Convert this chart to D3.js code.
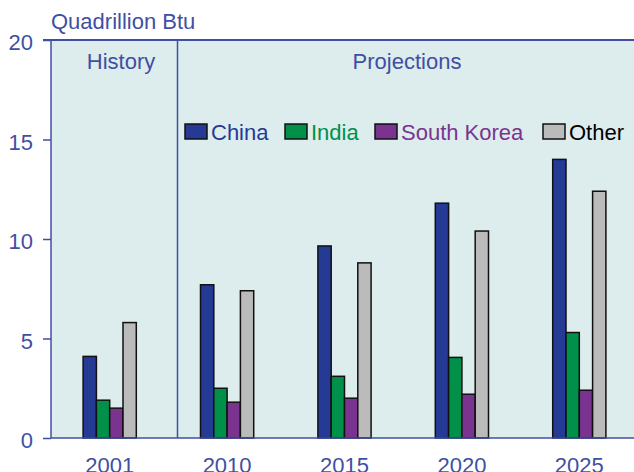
<!DOCTYPE html>
<html><head><meta charset="utf-8">
<script src="https://cdn.jsdelivr.net/npm/d3@7"></script>
<style>body{margin:0;background:#fff}svg{display:block}text{font-family:"Liberation Sans",Arial,sans-serif}</style>
</head><body>
<script>
const years = ["2001","2010","2015","2020","2025"];
const seriesNames = ["China","India","South Korea","Other"];
const china = [4.1, 7.7, 9.65, 11.8, 14.0];
const india = [1.9, 2.5, 3.1, 4.05, 5.3];
const southKorea = [1.5, 1.8, 2.0, 2.2, 2.4];
const other = [5.8, 7.4, 8.8, 10.4, 12.4];
const yTicks = [0,5,10,15,20];
const colors = ["#253a94","#00904a","#7a3490","#bbbbbb"];
const textColors = ["#253a94","#00904a","#7a3490","#000000"];

const W=634,H=472;
const svg=d3.select("body").append("svg").attr("width",W).attr("height",H);
const pLeft=51, pTop=40, pBottom=438, pRight=638;
const x=d3.scaleBand().domain(years).range([pLeft,pRight]);
const y=d3.scaleLinear().domain([0,20]).range([pBottom,pTop]);
const inner=d3.scaleBand().domain(seriesNames).range([0,53.2]);
const axisCol="#3f4fa3";
const FS=22;

svg.append("rect").attr("x",pLeft).attr("y",pTop).attr("width",W-pLeft).attr("height",pBottom-pTop).attr("fill","#ddecec");

const data=[china,india,southKorea,other];
years.forEach((yr,i)=>{
  const cx=x(yr)+x.bandwidth()/2-26.6;
  seriesNames.forEach((s,j)=>{
    svg.append("rect").attr("x",cx+inner(s)).attr("y",y(data[j][i]))
      .attr("width",inner.bandwidth()).attr("height",pBottom-y(data[j][i]))
      .attr("fill",colors[j]).attr("stroke","#111").attr("stroke-width",1.5);
  });
});

const ya=svg.append("g").attr("transform",`translate(${pLeft},0)`)
  .call(d3.axisLeft(y).tickValues(yTicks).tickSize(8).tickPadding(10));
ya.select(".domain").remove();
ya.selectAll("line").attr("stroke",axisCol).attr("stroke-width",1.5);
ya.selectAll("text").attr("fill",axisCol).attr("font-size",FS).attr("dy","0.45em");
svg.append("line").attr("x1",pLeft).attr("x2",pLeft).attr("y1",pTop).attr("y2",pBottom).attr("stroke",axisCol).attr("stroke-width",1.5);
svg.append("line").attr("x1",pLeft-8).attr("x2",W).attr("y1",pTop).attr("y2",pTop).attr("stroke",axisCol).attr("stroke-width",2);
svg.append("line").attr("x1",pLeft).attr("x2",W).attr("y1",pBottom).attr("y2",pBottom).attr("stroke",axisCol).attr("stroke-width",1.5);
svg.append("line").attr("x1",177.5).attr("x2",177.5).attr("y1",pTop).attr("y2",pBottom).attr("stroke",axisCol).attr("stroke-width",1.5);

const xa=svg.append("g").attr("transform",`translate(0,${pBottom})`)
  .call(d3.axisBottom(x).tickSize(0).tickPadding(19));
xa.select(".domain").remove();
xa.selectAll("text").attr("fill",axisCol).attr("font-size",FS).attr("dy","0.71em");

svg.append("text").attr("x",51).attr("y",29).attr("fill",axisCol).attr("font-size",FS).text("Quadrillion Btu");
svg.append("text").attr("x",121).attr("y",69).attr("text-anchor","middle").attr("fill",axisCol).attr("font-size",FS).text("History");
svg.append("text").attr("x",407).attr("y",69).attr("text-anchor","middle").attr("fill",axisCol).attr("font-size",FS).text("Projections");

const legX=[185,285,375,543];
seriesNames.forEach((s,j)=>{
  svg.append("rect").attr("x",legX[j]).attr("y",124).attr("width",22).attr("height",15)
    .attr("fill",colors[j]).attr("stroke","#111").attr("stroke-width",1.5);
  svg.append("text").attr("x",legX[j]+26).attr("y",140).attr("fill",textColors[j]).attr("font-size",FS).text(s);
});
</script>
</body></html>
